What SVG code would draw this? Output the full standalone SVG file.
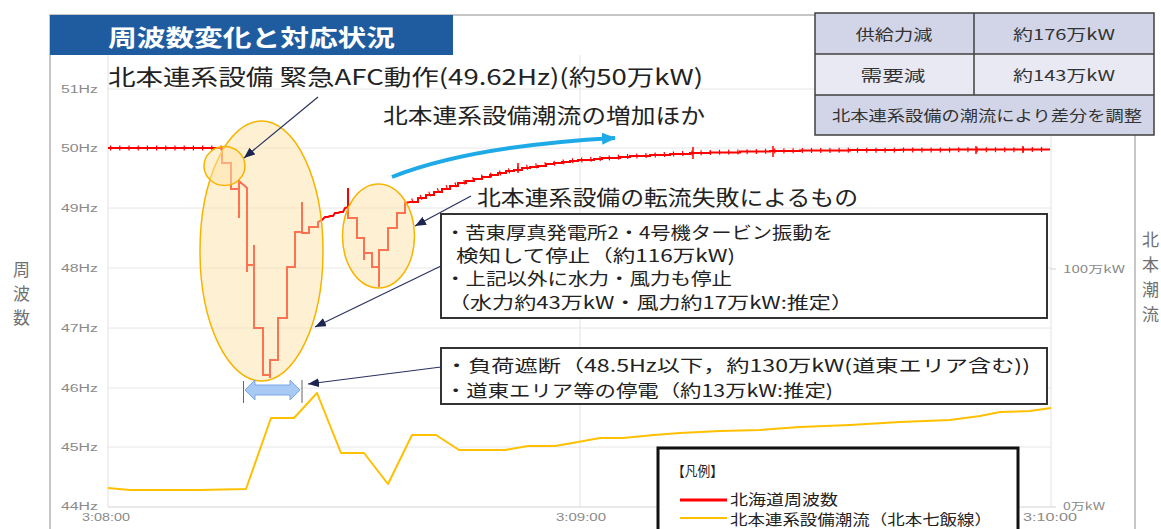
<svg xmlns="http://www.w3.org/2000/svg" width="1161" height="529" viewBox="0 0 1161 529">
<style>
.jp{font-family:'Noto Sans CJK JP','Noto Sans',sans-serif;fill:#222}
.ax{font-family:'Liberation Sans',Arial,sans-serif;font-size:10px;fill:#8a8a8a}
.axj{font-family:'Noto Sans CJK JP',sans-serif;font-size:10px;fill:#8a8a8a}
.grid{stroke:#e6e6e6;stroke-width:1;fill:none}
.frame{stroke:#b4b4b4;stroke-width:1.5;fill:none}
.conn{stroke:#2a3260;stroke-width:1.2;fill:none;marker-end:url(#nav)}
.ell{fill:#fde3a8;fill-opacity:0.5;stroke:#f6b400;stroke-width:1.5}
.box{fill:#fff;stroke:#333;stroke-width:2}
.side{font-family:'Noto Sans CJK JP',sans-serif;font-size:17px;fill:#707070}
.tb{font-family:'Noto Sans CJK JP',sans-serif;font-size:15px;fill:#333}
</style>
<defs>
<marker id="nav" markerUnits="userSpaceOnUse" markerWidth="11" markerHeight="9" refX="11" refY="4.5" orient="auto"><path d="M0,0 L11,4.5 L0,9 z" fill="#1c2450"/></marker>
<marker id="cy" markerUnits="userSpaceOnUse" markerWidth="14" markerHeight="12" refX="13" refY="6" orient="auto"><path d="M0,0 L14,6 L0,12 z" fill="#1eaae7"/></marker>
</defs>
<rect width="1161" height="529" fill="#fff"/>

<g id="frame">
<path class="frame" d="M50,529 V15 H1135 V529"/>
</g>

<g id="title">
<rect x="50" y="15" width="403" height="40" fill="#1f5c9f"/>
<text x="108" y="46" font-family="'Noto Sans CJK JP',sans-serif" font-weight="bold" font-size="23" fill="#fff" textLength="287" lengthAdjust="spacingAndGlyphs">周波数変化と対応状況</text>
</g>

<g id="axes">
<path class="grid" d="M108,89 H1051 M108,148 H1051 M108,208 H1051 M108,268 H1051 M108,328 H1051 M108,388 H1051 M108,447 H1051"/>
<path d="M108,55 V507 M580,55 V507 M1051,55 V507" stroke="#e2e2e2" stroke-width="1" fill="none"/>
<path d="M108,507 H1051 M1051,269 H1056 M1051,507 H1056" stroke="#d4d4d4" stroke-width="1" fill="none"/>
<text class="ax" x="98" y="93" text-anchor="end" textLength="37" lengthAdjust="spacingAndGlyphs">51Hz</text>
<text class="ax" x="98" y="152" text-anchor="end" textLength="37" lengthAdjust="spacingAndGlyphs">50Hz</text>
<text class="ax" x="98" y="212" text-anchor="end" textLength="37" lengthAdjust="spacingAndGlyphs">49Hz</text>
<text class="ax" x="98" y="272" text-anchor="end" textLength="37" lengthAdjust="spacingAndGlyphs">48Hz</text>
<text class="ax" x="98" y="332" text-anchor="end" textLength="37" lengthAdjust="spacingAndGlyphs">47Hz</text>
<text class="ax" x="98" y="392" text-anchor="end" textLength="37" lengthAdjust="spacingAndGlyphs">46Hz</text>
<text class="ax" x="98" y="451" text-anchor="end" textLength="37" lengthAdjust="spacingAndGlyphs">45Hz</text>
<text class="ax" x="98" y="510" text-anchor="end" textLength="37" lengthAdjust="spacingAndGlyphs">44Hz</text>
<text class="ax" x="82" y="521" textLength="48" lengthAdjust="spacingAndGlyphs">3:08:00</text>
<text class="ax" x="556" y="521" textLength="50" lengthAdjust="spacingAndGlyphs">3:09:00</text>
<text class="ax" x="1023" y="521" textLength="54" lengthAdjust="spacingAndGlyphs">3:10:00</text>
<text class="axj" x="1063" y="273" textLength="62" lengthAdjust="spacingAndGlyphs">100万kW</text>
<text class="axj" x="1063" y="510" textLength="42" lengthAdjust="spacingAndGlyphs">0万kW</text>
<text class="side" x="13" y="276">周</text>
<text class="side" x="13" y="300">波</text>
<text class="side" x="13" y="324">数</text>
<text class="side" x="1142" y="246">北</text>
<text class="side" x="1142" y="271">本</text>
<text class="side" x="1142" y="296">潮</text>
<text class="side" x="1142" y="321">流</text>
</g>

<g id="series">
<polyline points="108,488 130,490 200,490 246,489 271,418 294,418 317,393 341,453 364,453 388,484 412,435 436,435 459,450 505,450 528,446 555,446 578,442 600,438 623,438 654,435 680,433 720,431 760,430 800,427 850,425 900,422 950,420 980,416 1000,412 1030,411 1051,408" fill="none" stroke="#ffc000" stroke-width="2" stroke-linejoin="round"/>
<path d="M108,148 H222 V163 H231 V189 H239 V218 V181 L247,188 V272 V265 H254 V245 V328 H263 V375 H270 V378 V360 H278 V318 H287 V267 H295 V232 H302 V202 V233 H309 V227 H318 V222 L322,220 L325,217 H328 L330,216 H333 L335,213 H338 L340,212 H343 L345,208 L348,207 V188 V218 H357 V238 H364 V260 V253 H372 V267 H379 V287 V250 H388 V228 H397 V213 H405 V203 L410,202 H418 V198 H426 V195 H434 V192 H442 V189 H450 V186 H458 V183 H466 V181 H474 V179 H482 V177 H490 V175 H498 V173 H506 V171 H514 V170 H522 V168 H530 V167 H538 V166 H546 V164 H554 V163 H562 V162 H570 V161 H578 V160 H594 V159 H602 V158 H620 V157 H630 V156 H650 V155 H670 V154 H690 V153 H710 V152.5 H740 V151.5 H770 V151 H800 V150.5 H850 V150 H900 V149.7 H950 V149.5 H1050" fill="none" stroke="#ff0000" stroke-width="2"/>
<path d="M518,163 V173 M693,147 V159 M773,146 V157 M976,146 V154 M1023,146 V153" stroke="#ff0000" stroke-width="1.5" fill="none"/>
<path d="M110,148 H222 M412,201 L442,189 L482,177 L522,168 L570,161 L620,157 L690,153 L800,150.5 L1050,149.5" fill="none" stroke="#ff0000" stroke-width="5" stroke-dasharray="1.2 8"/>
</g>

<g id="highlights">
<ellipse id="big-ellipse" class="ell" cx="261.5" cy="251" rx="61.5" ry="130"/>
<ellipse id="small-circle" class="ell" cx="224.5" cy="166" rx="20.5" ry="19.5"/>
<ellipse id="mid-ellipse" class="ell" cx="378.5" cy="236" rx="36" ry="52"/>
</g>

<g id="double-arrow">
<polygon points="245,390 255,380 255,385 290,385 290,380 300,390 290,400 290,395 255,395 255,400" fill="#a9c9f5" stroke="#7aa7e6" stroke-width="1"/>
<path d="M243.5,381 V403 M302,380 V403" stroke="#666" stroke-width="1" fill="none"/>
</g>

<g id="labels">
<text class="jp" x="108" y="85" font-size="22" textLength="595" lengthAdjust="spacingAndGlyphs">北本連系設備 緊急AFC動作(49.62Hz)(約50万kW)</text>
<text class="jp" x="383" y="123" font-size="21" textLength="322" lengthAdjust="spacingAndGlyphs">北本連系設備潮流の増加ほか</text>
<text class="jp" x="477" y="205" font-size="21" textLength="381" lengthAdjust="spacingAndGlyphs">北本連系設備の転流失敗によるもの</text>
</g>

<g id="box-generation">
<rect class="box" x="441" y="214" width="606" height="104"/>
<text class="jp" x="445" y="239" font-size="17" textLength="388" lengthAdjust="spacingAndGlyphs">・苦東厚真発電所2・4号機タービン振動を</text>
<text class="jp" x="456" y="262" font-size="17" textLength="279" lengthAdjust="spacingAndGlyphs">検知して停止（約116万kW)</text>
<text class="jp" x="445" y="285" font-size="17" textLength="287" lengthAdjust="spacingAndGlyphs">・上記以外に水力・風力も停止</text>
<text class="jp" x="448" y="309" font-size="17" textLength="405" lengthAdjust="spacingAndGlyphs">（水力約43万kW・風力約17万kW:推定）</text>
</g>

<g id="box-load">
<rect class="box" x="441" y="348" width="606" height="56"/>
<text class="jp" x="445" y="372" font-size="17" textLength="585" lengthAdjust="spacingAndGlyphs">・負荷遮断（48.5Hz以下，約130万kW(道東エリア含む))</text>
<text class="jp" x="445" y="397" font-size="17" textLength="388" lengthAdjust="spacingAndGlyphs">・道東エリア等の停電（約13万kW:推定)</text>
</g>

<g id="table">
<rect x="815" y="13" width="339" height="41" fill="#d2d5e7"/>
<rect x="815" y="54" width="339" height="41" fill="#e8e9f3"/>
<rect x="815" y="95" width="339" height="40" fill="#d2d5e7"/>
<path d="M815,13 H1154 V135 H815 Z M815,54 H1154 M815,95 H1154 M974,13 V95" fill="none" stroke="#404040" stroke-width="1.5"/>
<text class="tb" x="894" y="40" text-anchor="middle" textLength="77" lengthAdjust="spacingAndGlyphs">供給力減</text>
<text class="tb" x="1064" y="40" text-anchor="middle" textLength="102" lengthAdjust="spacingAndGlyphs">約176万kW</text>
<text class="tb" x="893" y="81" text-anchor="middle" textLength="65" lengthAdjust="spacingAndGlyphs">需要減</text>
<text class="tb" x="1064" y="81" text-anchor="middle" textLength="102" lengthAdjust="spacingAndGlyphs">約143万kW</text>
<text class="tb" x="987" y="121" text-anchor="middle" textLength="310" lengthAdjust="spacingAndGlyphs">北本連系設備の潮流により差分を調整</text>
</g>

<g id="legend">
<rect x="658" y="448" width="360" height="90" fill="#fff" stroke="#111" stroke-width="3"/>
<text class="jp" x="672" y="476" font-size="14" textLength="51" lengthAdjust="spacingAndGlyphs">【凡例】</text>
<line x1="680" y1="500" x2="727" y2="500" stroke="#ff0000" stroke-width="3"/>
<text class="jp" x="730" y="505" font-size="14.5" textLength="108" lengthAdjust="spacingAndGlyphs">北海道周波数</text>
<line x1="680" y1="518" x2="727" y2="518" stroke="#ffc000" stroke-width="2"/>
<text class="jp" x="730" y="525" font-size="14.5" textLength="262" lengthAdjust="spacingAndGlyphs">北本連系設備潮流（北本七飯線）</text>
</g>

<g id="connectors">
<path d="M392,177 Q470,146 615,138" fill="none" stroke="#1eaae7" stroke-width="4" marker-end="url(#cy)"/>
<path class="conn" d="M318,97 L244,158"/>
<path class="conn" d="M471,196 L415,226"/>
<path class="conn" d="M441,266 L315,327"/>
<path class="conn" d="M441,367 L308,384"/>
</g>
</svg>
